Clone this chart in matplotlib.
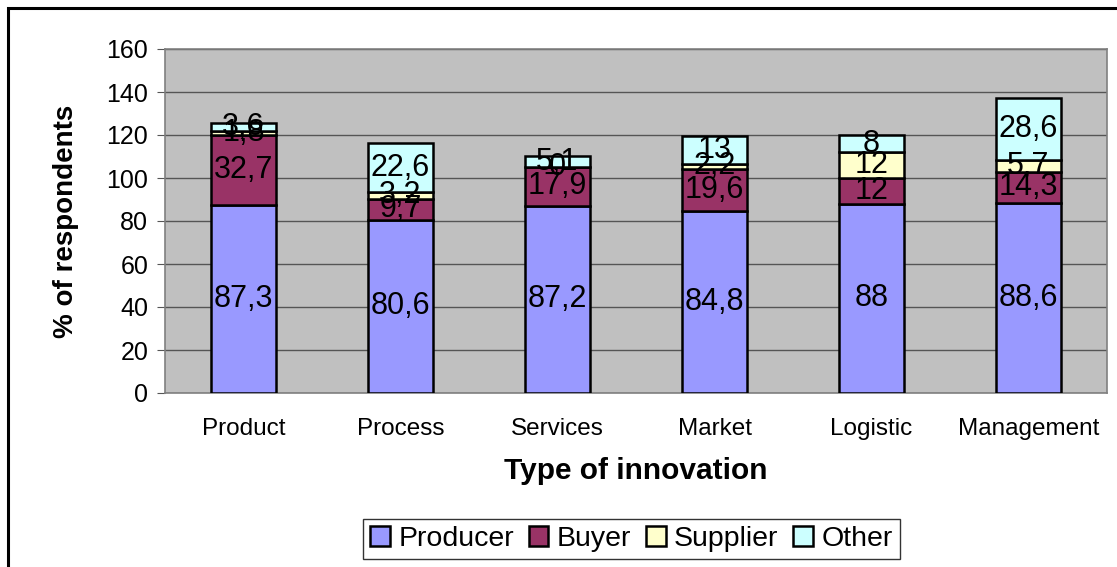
import numpy as np
import matplotlib.pyplot as plt
from matplotlib.patches import Rectangle

plt.rcParams['font.family'] = ['Liberation Sans', 'DejaVu Sans']

categories = ['Product', 'Process', 'Services', 'Market', 'Logistic', 'Management']
producer = [87.3, 80.6, 87.2, 84.8, 88, 88.6]
buyer = [32.7, 9.7, 17.9, 19.6, 12, 14.3]
supplier = [1.8, 3.2, 0, 2.2, 12, 5.7]
other = [3.6, 22.6, 5.1, 13, 8, 28.6]

series = ['Producer', 'Buyer', 'Supplier', 'Other']
colors = ['#9999FF', '#993366', '#FFFFCC', '#CCFFFF']

def fmt(v):
    s = ('%g' % v)
    return s.replace('.', ',')

fig = plt.figure(figsize=(11.17, 5.67), dpi=100)
ax = fig.add_axes([165/1117, 1 - 393/567, (1107-165)/1117, (393-49)/567])

# outer chart frame (cut off at right and bottom like the original)
fig.patches.append(Rectangle((8/1117, -0.05), 1.1, 1 - 8/567 + 0.05,
                             transform=fig.transFigure, fill=False,
                             edgecolor='black', linewidth=2.2))

ax.set_facecolor('#C0C0C0')
x = np.arange(len(categories))
bottom = np.zeros(len(categories))
for name, vals, c in zip(series, [producer, buyer, supplier, other], colors):
    vals = np.array(vals, dtype=float)
    ax.bar(x, vals, width=0.41, bottom=bottom, color=c, edgecolor='black',
           linewidth=1.8, label=name, zorder=3)
    for xi, b, v in zip(x, bottom, vals):
        ax.text(xi, b + v / 2, fmt(v), ha='center', va='center',
                fontsize=22, zorder=4)
    bottom += vals

ax.set_xlim(-0.5, len(categories) - 0.5)
ax.set_ylim(0, 160)
ax.set_yticks(range(0, 161, 20))
ax.yaxis.grid(True, color='#555555', linewidth=1)
ax.set_axisbelow(True)
ax.set_xticks(x)
ax.set_xticklabels(categories, fontsize=17.5)
ax.tick_params(axis='y', labelsize=18, length=6, color='#555555', pad=6)
ax.tick_params(axis='x', length=0, pad=18)
for sp in ax.spines.values():
    sp.set_color('#808080')
    sp.set_linewidth(1.2)

ax.set_xlabel('Type of innovation', fontsize=21.5, fontweight='bold', labelpad=12)
ax.set_ylabel('% of respondents', fontsize=20, fontweight='bold', labelpad=20)

leg = ax.legend(loc='center', bbox_to_anchor=(0.5 - 0.005, -0.425), ncol=4,
                fontsize=20.5, frameon=True, fancybox=False, handlelength=0.7,
                handleheight=0.7, handletextpad=0.3, columnspacing=0.5,
                borderpad=0.25)
leg.get_frame().set_edgecolor('black')
leg.get_frame().set_linewidth(1)

fig.savefig('out.png', dpi=100)
